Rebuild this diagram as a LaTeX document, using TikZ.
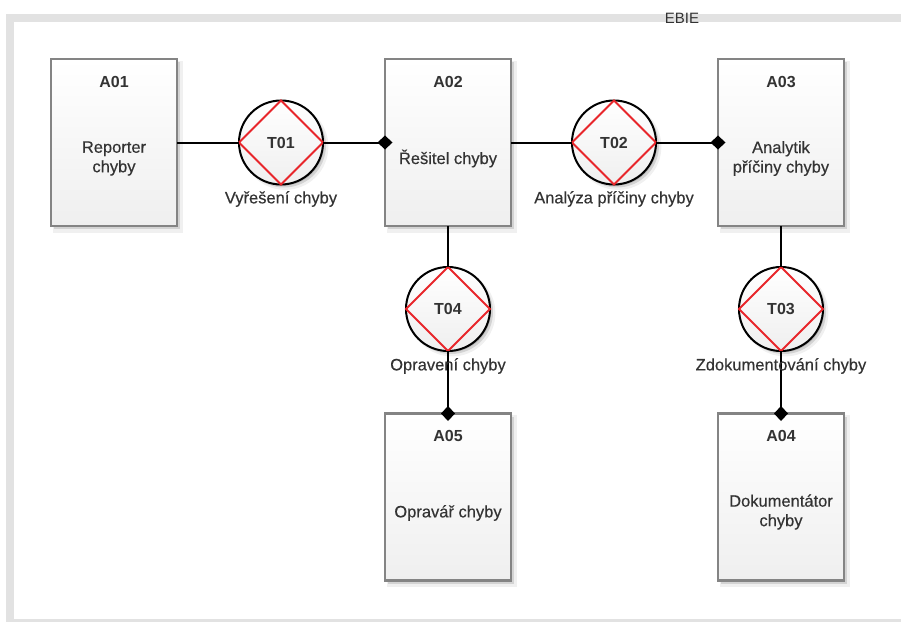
\documentclass[tikz,border=0pt]{standalone}
\usepackage{fontspec}
\setmainfont{Liberation Sans}
\usetikzlibrary{arrows.meta,shadows}

\definecolor{framegray}{HTML}{E2E2E2}
\definecolor{boxline}{HTML}{848484}
\definecolor{boxtop}{HTML}{FFFFFF}
\definecolor{boxbottom}{HTML}{EFEFEF}
\definecolor{txt}{HTML}{333333}
\definecolor{diamondred}{HTML}{E8262B}

\tikzset{
  softshadow/.style={
    general shadow={shadow xshift=4pt, shadow yshift=-4pt, fill=black, opacity=.06, shadow scale=1.03},
    general shadow={shadow xshift=3pt, shadow yshift=-3pt, fill=black, opacity=.12},
    general shadow={shadow xshift=2pt, shadow yshift=-2pt, fill=black, opacity=.14, shadow scale=.98}},
  actorbox/.style={rectangle, draw=boxline, line width=2.2pt, outer sep=0pt,
    minimum width=126pt, minimum height=167pt, top color=boxtop, bottom color=boxbottom, softshadow},
  transbox/.style={circle, draw=black, line width=2pt, outer sep=0pt,
    minimum size=84pt, inner sep=0pt, top color=boxtop, bottom color=boxbottom, softshadow},
  boxtitle/.style={font=\fontsize{16}{18}\selectfont\bfseries, text=txt},
  boxtext/.style={font=\fontsize{16.5}{19.5}\selectfont\addfontfeature{FakeBold=0.4}, text=txt, align=center},
  translabel/.style={font=\fontsize{16.5}{18}\selectfont\addfontfeature{FakeBold=0.4}, text=txt},
  tcode/.style={font=\fontsize{16}{18}\selectfont\bfseries, text=txt},
  link/.style={draw=black, line width=2pt},
  owner/.style={link, -{Diamond[length=15pt,width=14pt]}, shorten >=-7.5pt},
}

\newcommand{\transdiamond}[1]{%
  \draw[diamondred, line width=2pt, line join=miter]
    (#1.north) -- (#1.east) -- (#1.south) -- (#1.west) -- cycle;}

\begin{document}
\begin{tikzpicture}[x=1pt, y=-1pt]
  \useasboundingbox (0,0) rectangle (901,621);

  % outer frame, running past the right and bottom edges
  \begin{scope}
    \clip (0,0) rectangle (901,621);
    \draw[framegray, line width=8pt] (10,18) rectangle (912,623);
  \end{scope}
  \node[font=\fontsize{15}{17}\selectfont, text=txt] (ebie) at (682,18.5) {EBIE};

  % actors
  \node[actorbox] (a01) at (114,142.5) {};
  \node[actorbox] (a02) at (448,142.5) {};
  \node[actorbox] (a03) at (781,142.5) {};
  \node[actorbox] (a05) at (448,497) {};
  \node[actorbox] (a04) at (781,497) {};

  % transactions
  \node[transbox] (t01) at (281,142.5) {};
  \node[transbox] (t02) at (614,142.5) {};
  \node[transbox] (t04) at (448,309) {};
  \node[transbox] (t03) at (781,309) {};
  \transdiamond{t01}
  \transdiamond{t02}
  \transdiamond{t04}
  \transdiamond{t03}

  % connectors: initiator lines and executor diamonds
  \draw[link]  (a01.east) -- (t01.west);
  \draw[owner] (t01.east) -- (a02.west);
  \draw[link]  (a02.east) -- (t02.west);
  \draw[owner] (t02.east) -- (a03.west);
  \draw[link]  (a02.south) -- (t04.north);
  \draw[owner] (t04.south) -- (a05.north);
  \draw[link]  (a03.south) -- (t03.north);
  \draw[owner] (t03.south) -- (a04.north);

  % actor texts
  \node[boxtitle] (a01t) at (114,82) {A01};
  \node[boxtext]  (a01n) at (114,158.5) {Reporter\\chyby};
  \node[boxtitle] (a02t) at (448,82) {A02};
  \node[boxtext]  (a02n) at (448,158.5) {Řešitel chyby};
  \node[boxtitle] (a03t) at (781,82) {A03};
  \node[boxtext]  (a03n) at (781,158.5) {Analytik\\příčiny chyby};
  \node[boxtitle] (a05t) at (448,436) {A05};
  \node[boxtext]  (a05n) at (448,513) {Opravář chyby};
  \node[boxtitle] (a04t) at (781,436) {A04};
  \node[boxtext]  (a04n) at (781,512) {Dokumentátor\\chyby};

  % transaction texts
  \node[tcode] (t01c) at (281,142.5) {T01};
  \node[tcode] (t02c) at (614,142.5) {T02};
  \node[tcode] (t04c) at (448,309) {T04};
  \node[tcode] (t03c) at (781,309) {T03};
  \node[translabel] (t01l) at (281,199) {Vyřešení chyby};
  \node[translabel] (t02l) at (614,199) {Analýza příčiny chyby};
  \node[translabel] (t04l) at (448,366) {Opravení chyby};
  \node[translabel] (t03l) at (781,366) {Zdokumentování chyby};
\end{tikzpicture}
\end{document}
